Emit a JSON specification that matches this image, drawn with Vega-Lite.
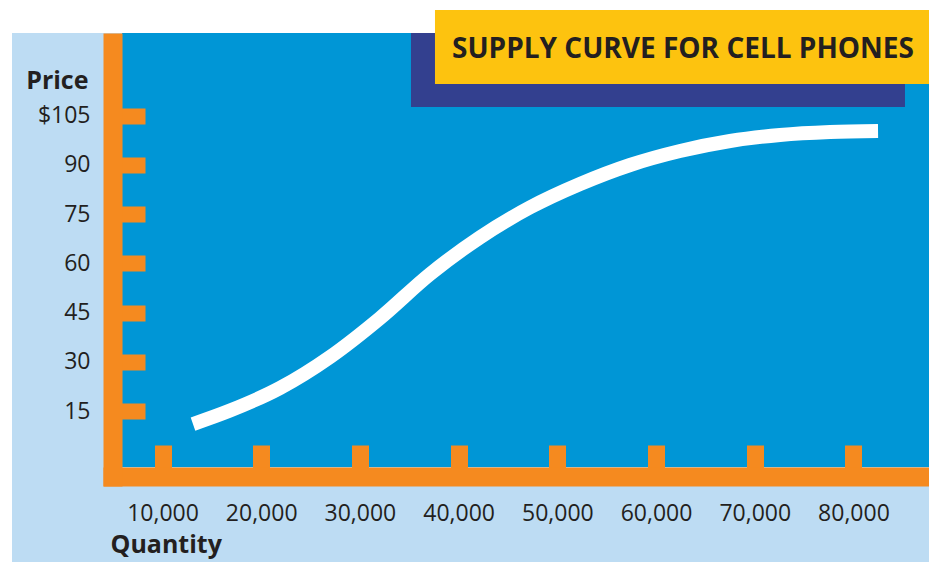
{
  "$schema": "https://vega.github.io/schema/vega-lite/v6.json",
  "width": 826,
  "height": 453,
  "autosize": {"type": "none"},
  "padding": {"left": 103, "top": 33, "right": 0, "bottom": 76},
  "background": "#ffffff",
  "config": {"view": {"stroke": null}},
  "data": {"values": [
    {"quantity": 13090, "price": 11.04},
    {"quantity": 16840, "price": 15.15},
    {"quantity": 21900, "price": 22.0},
    {"quantity": 26970, "price": 31.45},
    {"quantity": 32040, "price": 43.3},
    {"quantity": 37100, "price": 56.7},
    {"quantity": 42170, "price": 67.9},
    {"quantity": 47230, "price": 77.0},
    {"quantity": 52300, "price": 84.14},
    {"quantity": 57370, "price": 89.93},
    {"quantity": 62430, "price": 94.19},
    {"quantity": 67500, "price": 97.24},
    {"quantity": 72560, "price": 99.07},
    {"quantity": 77630, "price": 99.98},
    {"quantity": 82490, "price": 100.29}
  ]},
  "layer": [
    {
      "data": {"values": [{}]},
      "mark": {"type": "rect", "color": "#bddcf3", "clip": false},
      "encoding": {
        "x": {
          "datum": -5247, "type": "quantitative",
          "scale": {"domain": [3972, 87652], "nice": false, "zero": false},
          "axis": {
            "zindex": 1, "offset": -9.5,
            "values": [10000, 20000, 30000, 40000, 50000, 60000, 70000, 80000],
            "format": ",d",
            "domainColor": "#f58a1f", "domainWidth": 19, "domainCap": "butt",
            "tickColor": "#f58a1f", "tickWidth": 17, "tickSize": -31.5, "tickCap": "butt",
            "labelFont": "Open Sans", "labelFontSize": 23, "labelColor": "#231f20", "labelPadding": 57, "labelFlush": false, "labelOverlap": false,
            "title": "Quantity", "titleFont": "Open Sans", "titleFontWeight": "bold", "titleFontSize": 25, "titleColor": "#231f20",
            "titleAlign": "left", "titleBaseline": "alphabetic", "titleX": 7, "titleY": 76, "titleAnchor": null
          }
        },
        "x2": {"datum": 87652},
        "y": {
          "datum": 130.13, "type": "quantitative",
          "scale": {"domain": [-7.84, 130.13], "nice": false, "zero": false},
          "axis": {
            "zindex": 1, "offset": -9.5,
            "values": [15, 30, 45, 60, 75, 90, 105],
            "labelExpr": "datum.value == 105 ? '$105' : datum.label",
            "domainColor": "#f58a1f", "domainWidth": 19, "domainCap": "butt",
            "tickColor": "#f58a1f", "tickWidth": 16, "tickSize": -32.5, "tickCap": "butt",
            "labelFont": "Open Sans", "labelFontSize": 23, "labelColor": "#231f20", "labelPadding": 55, "labelFlush": false, "labelOverlap": false, "labelBaseline": "middle",
            "title": "Price", "titleFont": "Open Sans", "titleFontWeight": "bold", "titleFontSize": 25, "titleColor": "#231f20",
            "titleAngle": 0, "titleAlign": "right", "titleBaseline": "alphabetic", "titleX": -24.5, "titleY": 55, "titleAnchor": null
          }
        },
        "y2": {"datum": -30.99}
      }
    },
    {
      "data": {"values": [{}]},
      "mark": {"type": "rect", "color": "#0096d6", "clip": false},
      "encoding": {
        "x": {"datum": 5901, "type": "quantitative"},
        "x2": {"datum": 87652},
        "y": {"datum": 130.13, "type": "quantitative"},
        "y2": {"datum": -2.06}
      }
    },
    {
      "data": {"values": [{}]},
      "mark": {"type": "rect", "color": "#33408f", "clip": false},
      "encoding": {
        "x": {"datum": 35173, "type": "quantitative"},
        "x2": {"datum": 85218},
        "y": {"datum": 130.13, "type": "quantitative"},
        "y2": {"datum": 107.59}
      }
    },
    {
      "data": {"values": [{}]},
      "mark": {"type": "rect", "color": "#fdc30f", "clip": false},
      "encoding": {
        "x": {"datum": 37604, "type": "quantitative"},
        "x2": {"datum": 87652},
        "y": {"datum": 137.13, "type": "quantitative"},
        "y2": {"datum": 114.61}
      }
    },
    {
      "data": {"values": [{"label": "SUPPLY CURVE FOR CELL PHONES"}]},
      "mark": {"type": "text", "font": "Open Sans", "fontWeight": "bold", "fontSize": 28, "color": "#231f20", "align": "center", "baseline": "alphabetic", "clip": false},
      "encoding": {
        "x": {"datum": 62730, "type": "quantitative"},
        "y": {"datum": 122.5, "type": "quantitative"},
        "text": {"field": "label"}
      }
    },
    {
      "mark": {"type": "line", "color": "#ffffff", "strokeWidth": 14, "interpolate": "monotone", "strokeCap": "butt"},
      "encoding": {
        "x": {"field": "quantity", "type": "quantitative"},
        "y": {"field": "price", "type": "quantitative"}
      }
    }
  ]
}
